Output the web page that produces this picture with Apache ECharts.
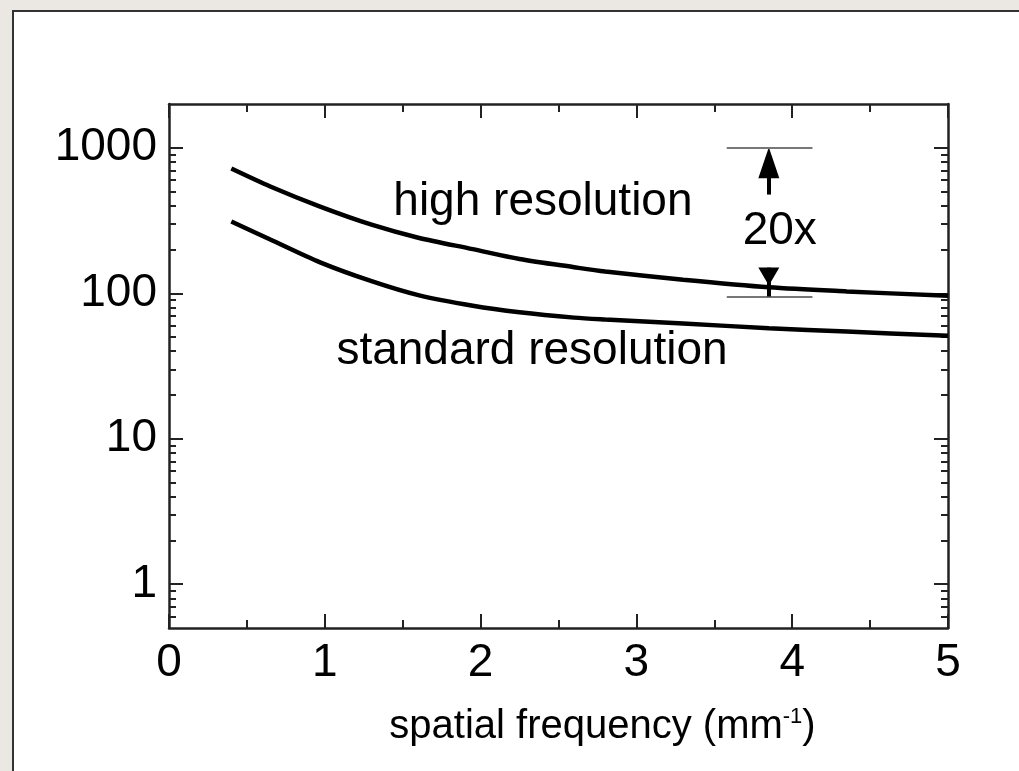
<!DOCTYPE html>
<html>
<head>
<meta charset="utf-8">
<script src="https://cdn.jsdelivr.net/npm/echarts@6/dist/echarts.min.js"></script>
<style>
  html, body { margin: 0; padding: 0; width: 1019px; height: 771px; background: #ebe8e3; overflow: hidden; }
  #frame { position: absolute; left: 12px; top: 10px; right: 0; bottom: 0; background: #fff; border-left: 2px solid #333; border-top: 2px solid #333; }
  #chart { position: absolute; left: 0; top: 0; width: 1019px; height: 771px; }
</style>
</head>
<body>
<div id="frame"></div>
<div id="chart"></div>
<script>
// spatial frequency (mm^-1)
const freq = [0.4, 0.65, 0.97, 1.3, 1.6, 1.95, 2.25, 2.6, 2.8, 3.3, 3.85, 4.35, 5.0];
const highRes = [720, 542, 394, 296, 241, 201, 172, 151, 141, 124, 110, 103, 96];
const standardRes = [311, 234, 163, 121, 97, 82, 74, 68, 66, 62, 57.5, 54.5, 51];
const yMajorTicks = [1, 10, 100, 1000];
const yMinorTicks = [0.6, 0.7, 0.8, 0.9, 2, 3, 4, 5, 6, 7, 8, 9, 20, 30, 40, 50, 60, 70, 80, 90, 200, 300, 400, 500, 600, 700, 800, 900];
// "20x" annotation: reference levels and arrow
const refLevels = [1000, 95];
const refSpan = [3.58, 4.13];
const arrowX = 3.85;
const upArrowFrom = 477;
const downArrowFrom = 150;

const chart = echarts.init(document.getElementById('chart'), null, { renderer: 'canvas' });
const axisColor = '#222';
const FONT = 'Liberation Sans, Arial, Helvetica, sans-serif';

function xAxisDef(pos, showLabel) {
  return {
    type: 'value', position: pos, min: 0, max: 5, interval: 1,
    axisLine: { show: true, onZero: false, lineStyle: { color: axisColor, width: 2.5 } },
    axisTick: { show: true, inside: true, length: 14, lineStyle: { color: axisColor, width: 2 } },
    minorTick: { show: true, splitNumber: 2, length: 8, lineStyle: { color: axisColor, width: 2 } },
    splitLine: { show: false }, minorSplitLine: { show: false },
    axisLabel: { show: showLabel, color: '#000', fontSize: 46, fontFamily: FONT, margin: 12 }
  };
}
function yAxisDef(pos, ticks, len, showLabel, showLine) {
  return {
    type: 'log', logBase: 10, position: pos, min: 0.5, max: 2000,
    axisLine: { show: showLine, onZero: false, lineStyle: { color: axisColor, width: 2.5 } },
    axisTick: { show: true, inside: true, length: len, customValues: ticks, lineStyle: { color: axisColor, width: 2 } },
    splitLine: { show: false },
    axisLabel: { show: showLabel, customValues: yMajorTicks, color: '#000', fontSize: 46, fontFamily: FONT, margin: 12,
      formatter: v => String(v) }
  };
}

const xAx = xAxisDef('bottom', true);
xAx.name = '{n|spatial frequency (mm}{s|-1}{n|)}';
xAx.nameLocation = 'middle';
xAx.nameGap = 78;
xAx.nameTextStyle = {
  padding: [0, 0, 0, 88],
  rich: {
    n: { fontSize: 40, fontFamily: FONT, color: '#000' },
    s: { fontSize: 22, fontFamily: FONT, color: '#000', verticalAlign: 'top', padding: [0, 0, 20, 0] }
  }
};

const option = {
  backgroundColor: 'transparent',
  animation: false,
  grid: { left: 169, right: 71, top: 104, bottom: 143, containLabel: false, outerBoundsMode: 'none' },
  xAxis: [xAx, xAxisDef('top', false)],
  yAxis: [
    yAxisDef('left', yMajorTicks, 14, true, true),
    yAxisDef('left', yMinorTicks, 7, false, false),
    yAxisDef('right', yMajorTicks, 14, false, true),
    yAxisDef('right', yMinorTicks, 7, false, false)
  ],
  series: [
    {
      name: 'high resolution', type: 'line', smooth: 0.3, showSymbol: false,
      data: freq.map((f, i) => [f, highRes[i]]),
      lineStyle: { color: '#000', width: 4.5 }, z: 5
    },
    {
      name: 'standard resolution', type: 'line', smooth: 0.3, showSymbol: false,
      data: freq.map((f, i) => [f, standardRes[i]]),
      lineStyle: { color: '#000', width: 4.5 }, z: 5
    },
    {
      name: 'labels', type: 'scatter', symbolSize: 0, silent: true,
      itemStyle: { opacity: 1 },
      emphasis: { disabled: true },
      data: [
        { value: [2.40, 421], label: { formatter: 'high resolution' } },
        { value: [2.33, 39.6], label: { formatter: 'standard resolution' } },
        { value: [3.92, 265], label: { formatter: '20x' } }
      ],
      label: { show: true, position: 'inside', color: '#000', opacity: 1, fontSize: 46, fontFamily: FONT }
    },
    {
      name: 'arrows', type: 'scatter', silent: true, symbol: 'triangle', symbolKeepAspect: false,
      itemStyle: { color: '#000', opacity: 1 },
      emphasis: { disabled: true },
      data: [
        { value: [arrowX, refLevels[0]], symbolSize: [21, 31], symbolOffset: [0, 15] },
        { value: [arrowX, refLevels[1]], symbolSize: [21, 18], symbolRotate: 180, symbolOffset: [0, -20] }
      ],
      markLine: {
        silent: true, symbol: ['none', 'none'], label: { show: false },
        lineStyle: { type: 'solid' },
        data: [
          [{ coord: [refSpan[0], refLevels[0]], lineStyle: { color: '#777', width: 2 } }, { coord: [refSpan[1], refLevels[0]] }],
          [{ coord: [refSpan[0], refLevels[1]], lineStyle: { color: '#777', width: 2 } }, { coord: [refSpan[1], refLevels[1]] }],
          [{ coord: [arrowX, upArrowFrom], lineStyle: { color: '#000', width: 4 } }, { coord: [arrowX, 700] }],
          [{ coord: [arrowX, downArrowFrom], lineStyle: { color: '#000', width: 4 } }, { coord: [arrowX, refLevels[1]] }]
        ]
      }
    }
  ]
};
chart.setOption(option);
</script>
</body>
</html>
